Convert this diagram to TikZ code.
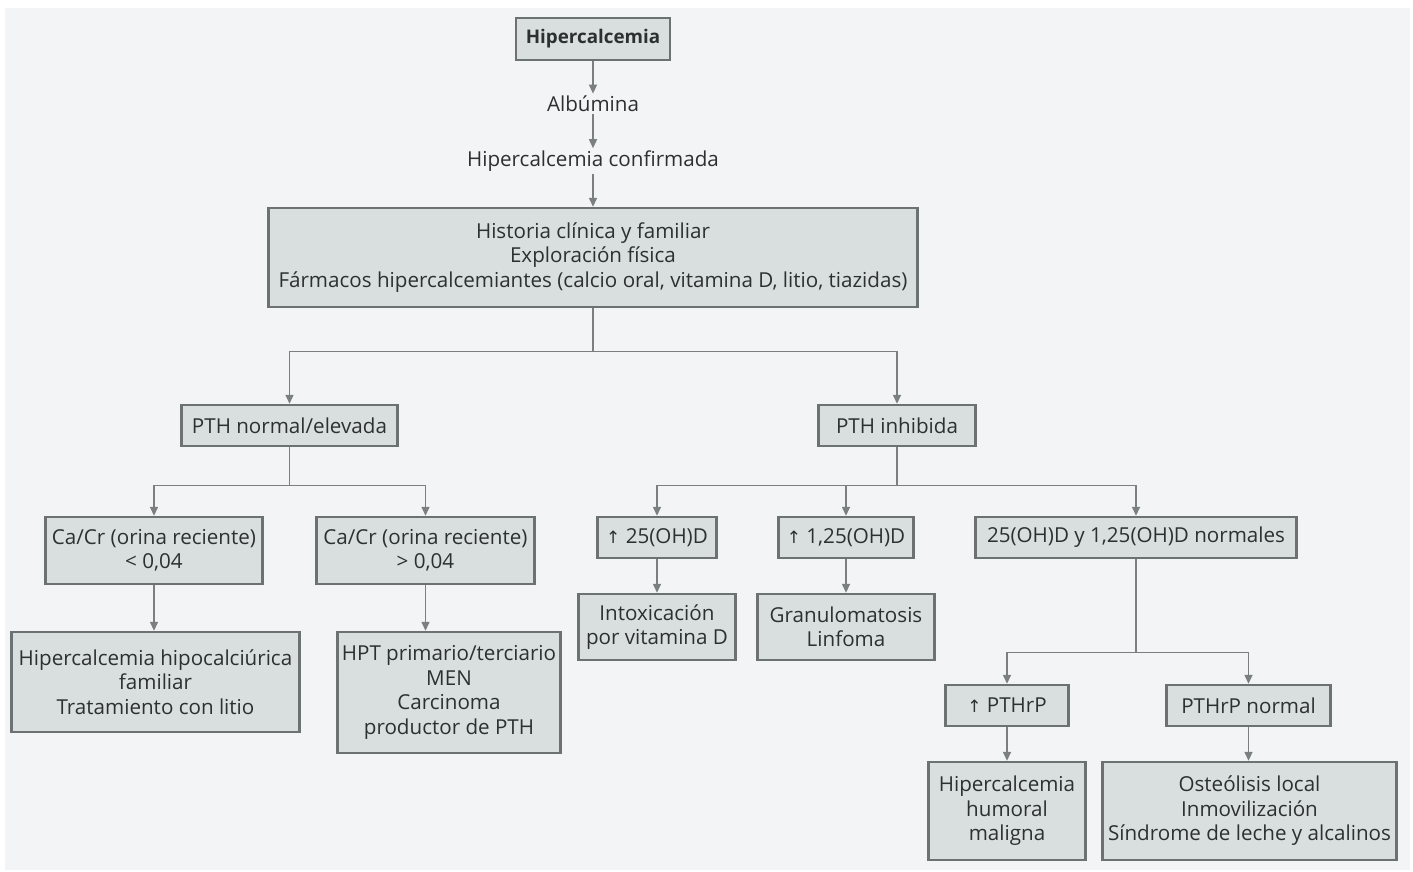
\documentclass[tikz,border=0pt]{standalone}
\usepackage{fontspec}
\setmainfont{Open Sans}
\newfontfamily\symfont{DejaVu Sans}
\newcommand{\uparr}{{\symfont\fontsize{8.5}{12}\selectfont ↑}}
\usetikzlibrary{positioning, arrows.meta}
\definecolor{paper}{RGB}{243,244,245}
\definecolor{boxfill}{RGB}{217,222,222}
\definecolor{boxline}{RGB}{108,113,113}
\definecolor{wire}{RGB}{122,127,127}
\definecolor{ink}{RGB}{44,48,48}
\tikzset{
>={Triangle[length=4.5pt,width=4pt]}, % small filled tips
every node/.style={font=\fontsize{10.3}{12.25}\selectfont, text=ink, align=center},
box/.style={draw=boxline, line width=1.2pt, fill=boxfill, inner sep=2pt}, % grey boxes
plain/.style={inner sep=1pt}, % text without box
wire/.style={draw=wire, line width=0.7pt},
}

\begin{document}
\begin{tikzpicture}
      \fill[white] (0,0) rectangle (706.5pt,-436pt);
      \fill[paper] (2.5pt,-4pt) rectangle (705pt,-435pt);
      \useasboundingbox (0,0) rectangle (706.5pt,-436pt);

      \node[box, minimum width=77pt, minimum height=21pt, font=\fontsize{9.4}{12.25}\selectfont\bfseries] (hyp) at (296.5pt,-19.5pt) {Hipercalcemia};
      \node[plain, below of=hyp, node distance=32.5pt] (alb) {Albúmina};
      \node[plain, below of=alb, node distance=28.5pt] (conf) {Hipercalcemia confirmada};
      \node[box, below of=conf, node distance=48.25pt, minimum width=324.5pt, minimum height=49.5pt] (hist) {Historia clínica y familiar\\Exploración física\\Fármacos hipercalcemiantes (calcio oral, vitamina D, litio, tiazidas)};
      \node[box, below of=hist, node distance=84pt, xshift=-151.75pt, minimum width=108pt, minimum height=20.5pt] (pthn) {PTH normal/elevada};
      \node[box, below of=hist, node distance=84pt, xshift=152pt, minimum width=78.5pt, minimum height=20.5pt] (pthi) {PTH inhibida};
      \node[box, below of=pthn, node distance=62.5pt, xshift=-67.75pt, minimum width=108.5pt, minimum height=33.5pt] (cclow) {Ca/Cr (orina reciente)\\< 0,04};
      \node[box, below of=pthn, node distance=62.5pt, xshift=68pt, minimum width=109pt, minimum height=33.5pt] (cchigh) {Ca/Cr (orina reciente)\\> 0,04};
      \node[box, below of=pthi, node distance=56pt, xshift=-120pt, minimum width=59.5pt, minimum height=20.5pt] (vd25) {\uparr\ 25(OH)D};
      \node[box, below of=pthi, node distance=56pt, xshift=-25.5pt, minimum width=67.5pt, minimum height=20.5pt] (vd125) {\uparr\ 1,25(OH)D};
      \node[box, below of=pthi, node distance=56pt, xshift=119.5pt, minimum width=160.5pt, minimum height=20.5pt] (vdnorm) {25(OH)D y 1,25(OH)D normales};
      \node[box, below of=cclow, node distance=65.75pt, xshift=0.75pt, minimum width=144pt, minimum height=50pt] (hhf) {Hipercalcemia hipocalciúrica\\familiar\\Tratamiento con litio};
      \node[box, below of=cchigh, node distance=71pt, xshift=11.75pt, minimum width=111.5pt, minimum height=60.5pt] (hpt) {HPT primario/terciario\\MEN\\Carcinoma\\productor de PTH};
      \node[box, below of=vd25, node distance=44.75pt, minimum width=78.5pt, minimum height=33pt] (intox) {Intoxicación\\por vitamina D};
      \node[box, below of=vd125, node distance=44.75pt, minimum width=88.5pt, minimum height=33pt] (gran) {Granulomatosis\\Linfoma};
      \node[box, below of=vdnorm, node distance=84pt, xshift=-64.5pt, minimum width=61.5pt, minimum height=20.5pt] (pthrp) {\uparr\ PTHrP};
      \node[box, below of=vdnorm, node distance=84pt, xshift=56.25pt, minimum width=82pt, minimum height=20.5pt] (pthrpn) {PTHrP normal};
      \node[box, below of=pthrp, node distance=52.75pt, minimum width=78.5pt, minimum height=49pt] (hhm) {Hipercalcemia\\humoral\\maligna};
      \node[box, below of=pthrpn, node distance=52.75pt, xshift=0.5pt, minimum width=147pt, minimum height=49pt] (osteo) {Osteólisis local\\Inmovilización\\Síndrome de leche y alcalinos};

      \draw[wire, ->] (hyp) -- (hyp.south |- alb.north);
      \draw[wire, ->] (hyp.south |- alb.south) -- (hyp.south |- conf.north);
      \draw[wire, ->] (hyp.south |- conf.south) -- (hyp.south |- hist.north);
      \draw[wire, ->] (hist.south) -- ++(0,-21.5pt) -| (pthn.north);
      \draw[wire, ->] (hist.south) -- ++(0,-21.5pt) -| (pthi.north);
      \draw[wire, ->] (pthn.south) -- ++(0,-19pt) -| (cclow.north);
      \draw[wire, ->] (pthn.south) -- ++(0,-19pt) -| (cchigh.north);
      \draw[wire, ->] (pthi.south) -- ++(0,-19pt) -| (vd25.north);
      \draw[wire, ->] (pthi.south) -- ++(0,-19pt) -| (vd125.north);
      \draw[wire, ->] (pthi.south) -- ++(0,-19pt) -| (vdnorm.north);
      \draw[wire, ->] (cclow.south) -- (cclow.south |- hhf.north);
      \draw[wire, ->] (cchigh.south) -- (cchigh.south |- hpt.north);
      \draw[wire, ->] (vd25) -- (intox);
      \draw[wire, ->] (vd125) -- (gran);
      \draw[wire, ->] (vdnorm.south) -- ++(0,-46.5pt) -| (pthrp.north);
      \draw[wire, ->] (vdnorm.south) -- ++(0,-46.5pt) -| (pthrpn.north);
      \draw[wire, ->] (pthrp) -- (hhm);
      \draw[wire, ->] (pthrpn.south) -- (pthrpn.south |- osteo.north);
    \end{tikzpicture}
\end{document}
